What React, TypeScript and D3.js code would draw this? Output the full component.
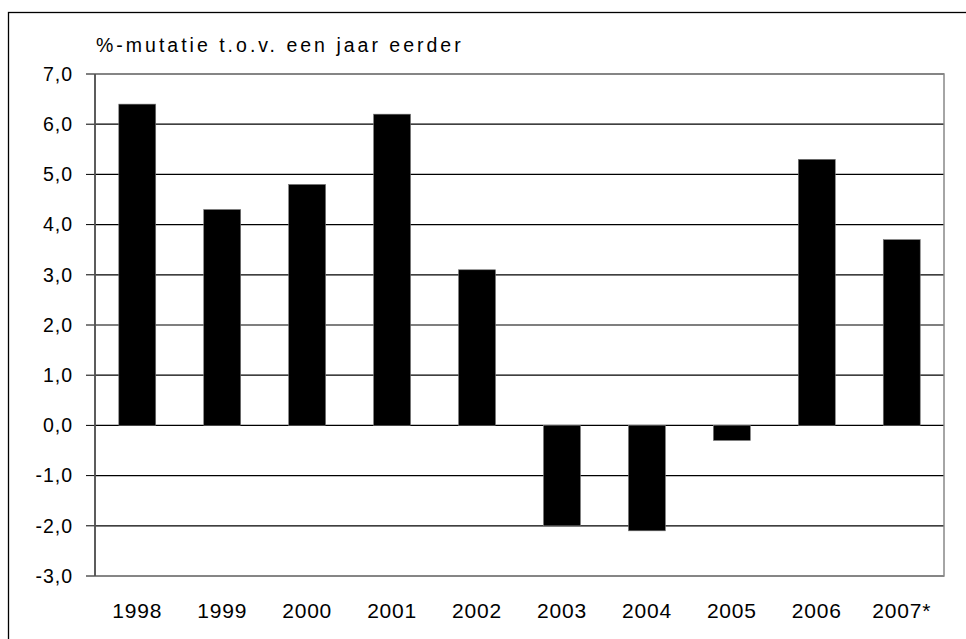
import React from "react";
import * as d3 from "d3";

const years = ["1998", "1999", "2000", "2001", "2002", "2003", "2004", "2005", "2006", "2007*"];
const mutation = [6.4, 4.3, 4.8, 6.2, 3.1, -2.0, -2.1, -0.3, 5.3, 3.7];
const yTicks = [7, 6, 5, 4, 3, 2, 1, 0, -1, -2, -3];
const title = "%-mutatie t.o.v. een jaar eerder";

const W = 966, H = 639;
const margin = { top: 74, right: 22, bottom: 63, left: 95 };

export default function App() {
  const innerW = W - margin.left - margin.right;
  const innerH = H - margin.top - margin.bottom;

  const x = d3.scaleBand().domain(years).range([0, innerW]).paddingInner(0.565).paddingOuter(0.28);
  const y = d3.scaleLinear().domain([-3, 7]).range([innerH, 0]);
  const fmt = (v: number) => v.toFixed(1).replace(".", ",");
  const font = "'Liberation Sans', Arial, sans-serif";

  return (
    <svg width={W} height={H} style={{ position: "absolute", left: 0, top: 0, background: "#fff" }}>
      {/* outer frame, open to the right and bottom */}
      <rect x={8.5} y={12.5} width={W} height={H} fill="none" stroke="#000" strokeWidth={1.3} />
      <text x={96} y={52} fontFamily={font} fontSize={19.5} letterSpacing={3} fill="#000">{title}</text>
      <g transform={`translate(${margin.left},${margin.top})`}>
        {yTicks.map(t => (
          <g key={t}>
            <line x1={0} x2={innerW} y1={y(t)} y2={y(t)} stroke="#000" strokeWidth={1.2} />
            <line x1={-9} x2={0} y1={y(t)} y2={y(t)} stroke="#000" strokeWidth={1} />
            <text x={-22} y={y(t)} dy="0.35em" textAnchor="end" fontFamily={font} fontSize={19.5} letterSpacing={1} fill="#000">{fmt(t)}</text>
          </g>
        ))}
        {mutation.map((v, i) => (
          <rect key={years[i]} x={x(years[i])} width={x.bandwidth()}
            y={y(Math.max(0, v))} height={Math.abs(y(v) - y(0))}
            fill="#000" stroke="#777" strokeWidth={0.6} />
        ))}
        <rect x={0} y={0} width={innerW} height={innerH} fill="none" stroke="#888" strokeWidth={1.5} />
        <line x1={0} x2={0} y1={0} y2={innerH} stroke="#444" strokeWidth={1.5} />
        {years.map(yr => (
          <text key={yr} x={(x(yr) ?? 0) + x.bandwidth() / 2} y={innerH + 42} textAnchor="middle"
            fontFamily={font} fontSize={21} letterSpacing={0.8} fill="#000">{yr}</text>
        ))}
      </g>
    </svg>
  );
}
